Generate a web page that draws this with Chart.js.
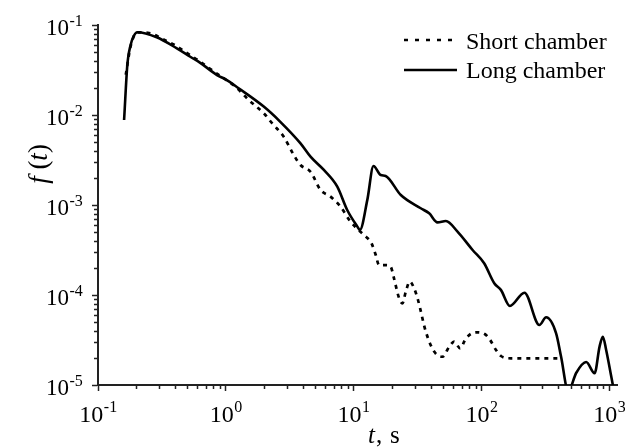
<!DOCTYPE html>
<html><head><meta charset="utf-8">
<script src="https://cdn.jsdelivr.net/npm/chart.js@4/dist/chart.umd.min.js"></script>
<style>html,body{margin:0;padding:0;background:#fff}canvas{display:block}</style>
</head><body>
<canvas id="c" width="625" height="448"></canvas>
<script>
// ---- data ----
const seriesNames = ['Short chamber', 'Long chamber'];

const shortT = [0.165, 0.18, 0.203, 0.245, 0.346, 0.407, 0.473, 0.6, 0.85, 1.19, 1.51, 2.04, 2.3, 2.84, 3.4, 3.84, 4.6, 5.51, 6.6, 7.9, 9.47, 10.6, 12.05, 13.8, 14.9, 15.8, 17.8, 19.5, 20.7, 22.7, 24.1, 25.6, 27.5, 29.7, 31.9, 36.7, 42.7, 49.6, 56, 61.2, 68.2, 75.6, 90.5, 106, 117, 130, 142, 170, 395];
const shortF = [0.028, 0.058, 0.083, 0.082, 0.066, 0.059, 0.051, 0.041, 0.0288, 0.0206, 0.0147, 0.0100, 0.0081, 0.00574, 0.0036, 0.00278, 0.00234, 0.00147, 0.00124, 0.00096, 0.00065, 0.00055, 0.000464, 0.000375, 0.000278, 0.000215, 0.000215, 0.000206, 0.000153, 0.000092, 0.0000807, 0.000109, 0.000141, 0.000119, 0.000088, 0.0000392, 0.0000235, 0.0000206, 0.0000267, 0.0000303, 0.0000255, 0.000033, 0.0000385, 0.0000369, 0.0000316, 0.0000245, 0.000021, 0.0000198, 0.0000198];

const longT = [0.16, 0.17, 0.18, 0.19, 0.203, 0.288, 0.414, 0.527, 0.631, 0.853, 0.99, 1.26, 1.98, 2.67, 3.84, 4.6, 5.85, 7.45, 8.91, 10.7, 11.2, 12.8, 14.3, 16.3, 17.8, 23.4, 33.5, 39, 45.3, 52.7, 65, 85.3, 105, 126, 142, 167, 217, 284, 321, 384, 420, 478, 551, 660, 768, 840, 891, 946, 1037, 1100];
const longF = [0.0088, 0.0375, 0.060, 0.075, 0.083, 0.073, 0.055, 0.0444, 0.038, 0.0278, 0.025, 0.0198, 0.0124, 0.0084, 0.00484, 0.00344, 0.00245, 0.0016, 0.00088, 0.000575, 0.000527, 0.00114, 0.00271, 0.00215, 0.0021, 0.00129, 0.00092, 0.000808, 0.000641, 0.000664, 0.000506, 0.000316, 0.000225, 0.000135, 0.000114, 0.0000755, 0.000106, 0.0000464, 0.0000565, 0.0000375, 0.0000206, 0.0000085, 0.0000136, 0.000018, 0.0000135, 0.0000267, 0.0000344, 0.0000245, 0.0000124, 0.000008];

const xTickValues = [0.1, 1, 10, 100, 1000];
const xTickExponents = ['-1', '0', '1', '2', '3'];
const yTickValues = [1e-5, 1e-4, 1e-3, 1e-2, 1e-1];
const yTickExponents = ['-5', '-4', '-3', '-2', '-1'];
const xRange = [0.1, 1150];
const yRange = [1e-5, 1e-1];

// ---- chart ----
const SERIF = "'Liberation Serif', 'Times New Roman', serif";
const AXIS = '#222';

function toPoints(ts, fs) { return ts.map((t, i) => ({ x: t, y: fs[i] })); }

const decor = {
  id: 'decor',
  afterDraw(chart) {
    const ctx = chart.ctx, xs = chart.scales.x, ys = chart.scales.y, a = chart.chartArea;
    ctx.save();
    // minor ticks
    ctx.strokeStyle = AXIS; ctx.lineWidth = 1.5;
    ctx.beginPath();
    for (let d = 0.1; d < 2000; d *= 10) {
      for (let k = 2; k <= 9; k++) {
        const v = k * d;
        if (v > xRange[1]) break;
        const px = Math.round(xs.getPixelForValue(v)) + 0.5;
        ctx.moveTo(px, a.bottom); ctx.lineTo(px, a.bottom + 4);
      }
    }
    for (let d = 1e-5; d < 0.1; d *= 10) {
      for (let k = 2; k <= 9; k++) {
        const v = k * d;
        const py = Math.round(ys.getPixelForValue(v)) + 0.5;
        ctx.moveTo(a.left, py); ctx.lineTo(a.left - 4, py);
      }
    }
    ctx.stroke();

    // tick labels
    ctx.fillStyle = '#000';
    ctx.textBaseline = 'alphabetic';
    ctx.textAlign = 'left';
    xTickValues.forEach((v, i) => {
      const px = xs.getPixelForValue(v);
      ctx.font = '24px ' + SERIF;
      const w1 = ctx.measureText('10').width;
      ctx.font = '16px ' + SERIF;
      const w2 = ctx.measureText(xTickExponents[i]).width;
      const x0 = px - (w1 + w2) / 2;
      ctx.font = '24px ' + SERIF;
      ctx.fillText('10', x0, 421.5);
      ctx.font = '16px ' + SERIF;
      ctx.fillText(xTickExponents[i], x0 + w1 + 0.5, 411.5);
    });
    yTickValues.forEach((v, i) => {
      const py = ys.getPixelForValue(v);
      ctx.font = '23px ' + SERIF;
      const w1 = ctx.measureText('10').width;
      ctx.fillText('10', 46, py + 10);
      ctx.font = '16px ' + SERIF;
      ctx.fillText(yTickExponents[i], 46 + w1 + 0.5, py + 0.5);
    });

    // x axis title: "t, s"
    ctx.font = 'italic 25px ' + SERIF;
    ctx.fillText('t', 368, 443);
    const wt = ctx.measureText('t').width;
    ctx.font = '25px ' + SERIF;
    ctx.fillText(',', 368 + wt + 1, 443);
    ctx.fillText('s', 390, 443);

    // y axis title: "f (t)"
    const parts = [['f', true], [' (', false], ['t', true], [')', false]];
    const fs = '27px ';
    let total = 0;
    parts.forEach(p => { ctx.font = (p[1] ? 'italic ' : '') + fs + SERIF; total += ctx.measureText(p[0]).width; });
    ctx.translate(47, 164);
    ctx.rotate(-Math.PI / 2);
    let cx = -total / 2;
    parts.forEach(p => {
      ctx.font = (p[1] ? 'italic ' : '') + fs + SERIF;
      ctx.fillText(p[0], cx, 0);
      cx += ctx.measureText(p[0]).width;
    });
    ctx.setTransform(1, 0, 0, 1, 0, 0);

    // legend
    ctx.strokeStyle = '#000'; ctx.lineWidth = 2.6; ctx.lineCap = 'butt';
    ctx.setLineDash([4, 7]);
    ctx.beginPath(); ctx.moveTo(404, 40); ctx.lineTo(457, 40); ctx.stroke();
    ctx.setLineDash([]);
    ctx.beginPath(); ctx.moveTo(404, 70); ctx.lineTo(457, 70); ctx.stroke();
    ctx.font = '24px ' + SERIF;
    ctx.fillStyle = '#000';
    ctx.fillText(seriesNames[0], 466, 49);
    ctx.fillText(seriesNames[1], 466, 78);
    ctx.restore();
  }
};

function decadeTicks(vals) {
  return function (scale) { scale.ticks = vals.map(v => ({ value: v, major: true })); };
}

new Chart(document.getElementById('c'), {
  type: 'line',
  data: {
    datasets: [
      {
        label: seriesNames[0],
        data: toPoints(shortT, shortF),
        borderColor: '#000', borderWidth: 2.7, borderDash: [4, 5],
        pointRadius: 0, cubicInterpolationMode: 'monotone', fill: false
      },
      {
        label: seriesNames[1],
        data: toPoints(longT, longF),
        borderColor: '#000', borderWidth: 2.6,
        pointRadius: 0, cubicInterpolationMode: 'monotone', fill: false
      }
    ]
  },
  options: {
    responsive: false, animation: false, devicePixelRatio: 1,
    layout: { padding: { left: 0, top: 25, right: 8, bottom: 0 } },
    plugins: { legend: { display: false }, tooltip: { enabled: false } },
    scales: {
      x: {
        type: 'logarithmic', min: xRange[0], max: xRange[1],
        afterBuildTicks: decadeTicks(xTickValues),
        afterFit(s) { s.height = 63; },
        ticks: { display: false },
        grid: { display: true, drawOnChartArea: false, drawTicks: true, tickLength: 6, tickColor: AXIS, tickWidth: 1.5 },
        border: { display: true, color: AXIS, width: 2 }
      },
      y: {
        type: 'logarithmic', min: yRange[0], max: yRange[1],
        afterBuildTicks: decadeTicks(yTickValues),
        afterFit(s) { s.width = 98; },
        ticks: { display: false },
        grid: { display: true, drawOnChartArea: false, drawTicks: true, tickLength: 6, tickColor: AXIS, tickWidth: 1.5 },
        border: { display: true, color: AXIS, width: 2 }
      }
    }
  },
  plugins: [decor]
});
</script>
</body></html>
